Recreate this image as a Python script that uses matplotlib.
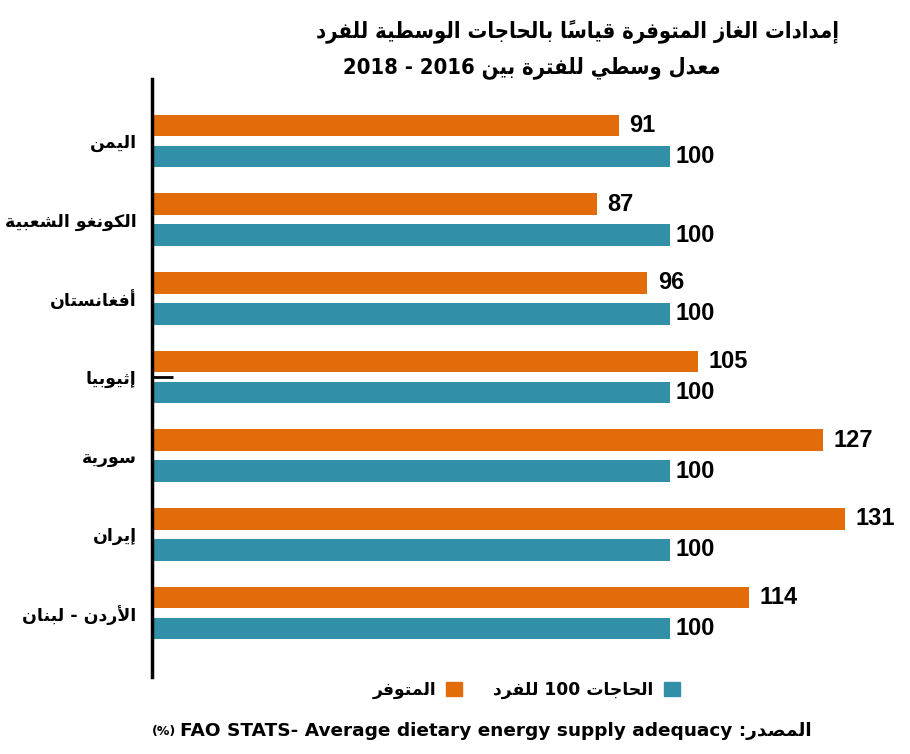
import matplotlib
matplotlib.use("Agg")
import matplotlib.pyplot as plt
from matplotlib.patches import Patch

# data
countries = ["اليمن", "الكونغو الشعبية", "أفغانستان", "إثيوبيا", "سورية", "إيران", "الأردن - لبنان"]
available = [91, 87, 96, 105, 127, 131, 114]
needs = [100, 100, 100, 100, 100, 100, 100]

title1 = "إمدادات الغاز المتوفرة قياساً بالحاجات الوسطية للفرد"
title2 = "معدل وسطي للفترة بين 2016 - 2018"
legend_avail = "المتوفر"
legend_needs = "الحاجات 100 للفرد"
source_ar = "المصدر:"
source_en = "FAO STATS- Average dietary energy supply adequacy"
source_unit = "(%)"

ORANGE = "#E36C0A"
BLUE = "#318FA8"

# matplotlib has no arabic shaping, so map letters to presentation forms
DUAL = {'ئ': 0xFE89, 'ب': 0xFE8F, 'ت': 0xFE95, 'ث': 0xFE99, 'ج': 0xFE9D, 'ح': 0xFEA1,
        'خ': 0xFEA5, 'س': 0xFEB1, 'ش': 0xFEB5, 'ص': 0xFEB9, 'ض': 0xFEBD, 'ط': 0xFEC1,
        'ظ': 0xFEC5, 'ع': 0xFEC9, 'غ': 0xFECD, 'ف': 0xFED1, 'ق': 0xFED5, 'ك': 0xFED9,
        'ل': 0xFEDD, 'م': 0xFEE1, 'ن': 0xFEE5, 'ه': 0xFEE9, 'ي': 0xFEF1}
RIGHT = {'آ': 0xFE81, 'أ': 0xFE83, 'ؤ': 0xFE85, 'إ': 0xFE87, 'ا': 0xFE8D, 'ة': 0xFE93,
         'د': 0xFEA9, 'ذ': 0xFEAB, 'ر': 0xFEAD, 'ز': 0xFEAF, 'و': 0xFEED, 'ى': 0xFEEF}
LAMALEF = {'آ': 0xFEF5, 'أ': 0xFEF7, 'إ': 0xFEF9, 'ا': 0xFEFB}


def is_arabic(s):
    return any('\u0600' <= ch <= '\u06FF' for ch in s)


def shape(word):
    letters = []
    for ch in word:
        if '\u064B' <= ch <= '\u0652':
            if letters:
                letters[-1][1] += ch
        else:
            letters.append([ch, ""])
    merged = []
    i = 0
    while i < len(letters):
        c, m = letters[i]
        if c == 'ل' and i + 1 < len(letters) and letters[i + 1][0] in LAMALEF:
            merged.append(["LA" + letters[i + 1][0], m + letters[i + 1][1]])
            i += 2
        else:
            merged.append([c, m])
            i += 1
    out = []
    for k, (c, m) in enumerate(merged):
        prev = merged[k - 1][0] if k > 0 else None
        nxt = merged[k + 1][0] if k + 1 < len(merged) else None
        p = prev in DUAL
        n = nxt is not None and (nxt in DUAL or nxt in RIGHT or nxt.startswith("LA"))
        if c.startswith("LA"):
            g = chr(LAMALEF[c[2]] + (1 if p else 0))
        elif c in DUAL:
            idx = 3 if (p and n) else (1 if p else (2 if n else 0))
            g = chr(DUAL[c] + idx)
        elif c in RIGHT:
            g = chr(RIGHT[c] + (1 if p else 0))
        else:
            g = c
        out.append(g + m)
    return "".join(reversed(out))


def ar(text):
    tokens = [shape(t) if is_arabic(t) else t for t in text.split(" ")]
    return " ".join(reversed(tokens))


def fit_width(t, width_px):
    # scale a text's font size so it spans width_px
    bb = t.get_window_extent(renderer=fig.canvas.get_renderer())
    t.set_fontsize(t.get_fontsize() * width_px / bb.width)


plt.rcParams["font.family"] = ["DejaVu Sans"]

fig = plt.figure(figsize=(9.1, 7.54), dpi=100)
W, H = 910, 754
ax = fig.add_axes([152 / W, 1 - 677 / H, (900 - 152) / W, (677 - 79) / H])

y = list(range(len(countries)))
off = 0.197
h = 0.273
b1 = ax.barh([v - off for v in y], available, height=h, color=ORANGE)
b2 = ax.barh([v + off for v in y], needs, height=h, color=BLUE)

ax.bar_label(b1, padding=7.5, fontsize=17, fontweight="bold", family="Liberation Sans")
ax.bar_label(b2, padding=4, fontsize=17, fontweight="bold", family="Liberation Sans")

ax.set_xlim(8.32, 140.7)
ax.set_ylim(6.813, -0.788)
ax.set_xticks([])
ax.set_yticks(y)
ax.set_yticklabels([ar(c) for c in countries], fontsize=12.5, fontweight="bold")
ax.tick_params(axis="y", length=0, pad=11)
for s in ["top", "right", "bottom"]:
    ax.spines[s].set_visible(False)
ax.spines["left"].set_linewidth(2.5)
ax.spines["left"].set_color("black")

# small stray tick near Ethiopia
ax.hlines(3, 8.32, 12.0, color="black", lw=2)

t1 = fig.text(577 / W, 1 - 31 / H, ar(title1), ha="center", va="center", fontsize=15,
              fontweight="bold", fontstretch="condensed")
t2 = fig.text(343 / W, 1 - 68 / H, ar(title2), ha="left", va="center", fontsize=15,
              fontweight="bold", fontstretch="condensed")
fit_width(t1, 525)
fit_width(t2, 720 - 343)

handles = [Patch(color=ORANGE, label=ar(legend_avail)), Patch(color=BLUE, label=ar(legend_needs))]
fig.legend(handles=handles, loc="center", bbox_to_anchor=(526 / W, 1 - 690 / H), ncol=2,
           frameon=False, markerfirst=False, handlelength=0.95, handleheight=0.95,
           handletextpad=0.6, columnspacing=1.8,
           prop=dict(family="DejaVu Sans", weight="bold", size=12.3))

src = fig.text(812 / W, 1 - 731 / H, source_en + " " + ar(source_ar), ha="right", va="center",
               fontsize=14, fontweight="bold")
fit_width(src, 812 - 178)
bb = src.get_window_extent(renderer=fig.canvas.get_renderer())
fig.text((bb.x0 - 4) / W, 1 - 731 / H, source_unit, ha="right", va="center", fontsize=9, fontweight="bold")

fig.savefig("out.png", dpi=100)
